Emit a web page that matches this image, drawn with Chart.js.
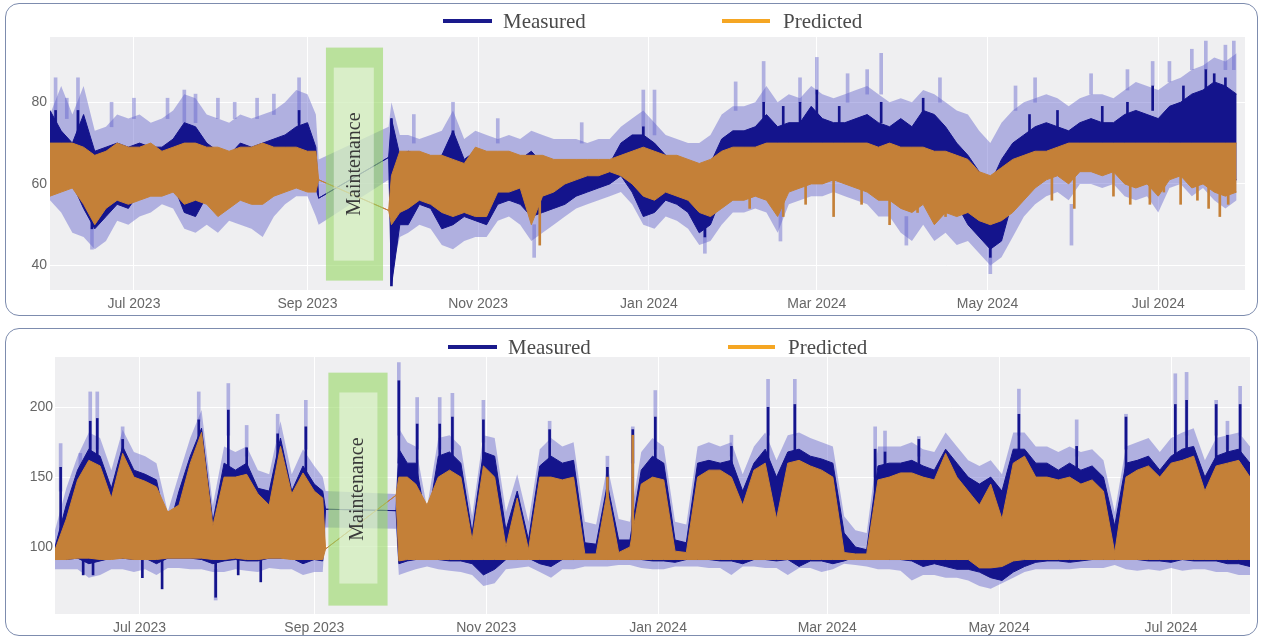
<!DOCTYPE html>
<html><head><meta charset="utf-8">
<script src="https://cdn.jsdelivr.net/npm/chart.js@4.4.1/dist/chart.umd.min.js"></script>
<style>
html,body{margin:0;padding:0;background:#fff;width:1263px;height:638px;overflow:hidden;position:relative}
.panel{position:absolute;border:1.5px solid #7d8cae;border-radius:14px;box-sizing:border-box}
canvas{position:absolute;left:0}
.leg{position:absolute;font-family:"Liberation Serif","Times New Roman",serif;font-size:21px;color:#4a4a4a;line-height:24px;white-space:nowrap}
.sw{position:absolute;height:4px}
</style></head><body>
<div class="panel" style="left:5px;top:3px;width:1253px;height:313px"></div>
<div class="panel" style="left:5px;top:328px;width:1253px;height:308px"></div>
<canvas id="cTop" width="1263" height="320" style="top:0"></canvas>
<canvas id="cBot" width="1263" height="318" style="top:320px"></canvas>
<div class="sw" style="left:443px;top:19px;width:49px;background:#1a1a8c"></div>
<div class="leg" style="left:503px;top:9px">Measured</div>
<div class="sw" style="left:722px;top:19px;width:48px;background:#f5a623"></div>
<div class="leg" style="left:783px;top:9px">Predicted</div>
<div class="sw" style="left:448px;top:345px;width:49px;background:#1a1a8c"></div>
<div class="leg" style="left:508px;top:335px">Measured</div>
<div class="sw" style="left:728px;top:345px;width:47px;background:#f5a623"></div>
<div class="leg" style="left:788px;top:335px">Predicted</div>
<script>
// ---- data (x = day offset from 1 Jun 2023) ----
const days = [0,4,8,12,16,20,24,28,32,36,40,44,48,52,56,60,64,68,72,76,80,84,88,92,95,96,
  121,122,125,128,132,136,140,144,148,152,156,160,164,168,172,176,180,184,188,192,196,200,204,208,212,216,220,224,228,232,236,240,244,248,252,256,260,264,268,272,276,280,284,288,292,296,300,304,308,312,316,320,324,328,332,336,340,344,348,352,356,360,364,368,372,376,380,384,388,392,396,400,404,408,412,416,420,424];

const xTickDays = [30,92,153,214,274,335,396];
const xTickLabels = ["Jul 2023","Sep 2023","Nov 2023","Jan 2024","Mar 2024","May 2024","Jul 2024"];
const topYTicks = [40,60,80];
const botYTicks = [100,150,200];
const maintenanceLabel = "Maintenance";
const seriesNames = ["Measured","Predicted"];

// ---- top panel: envelopes ----
const topBandHi = [77,84,77,84,73,74,77,76,77,75,76,78,82,81,77,76,75,77,76,77,78,80,83,82,77,66,
  74,80,72,72,71,72,73,78,71,73,72,71,72,71,73,72,71,71,71,70,71,71,74,76,78,75,72,71,70,70,72,77,79,79,80,84,80,82,81,84,82,81,82,83,84,82,80,81,80,83,82,80,78,77,73,70,75,78,80,81,82,81,79,81,82,82,81,83,85,84,83,85,86,88,89,91,90,92];
const topMeasHi = [78,73,70,77,68,69,70,69,70,69,69,71,75,74,70,68,67,70,69,70,71,72,74,75,69,56.5,
  66.5,76,67,68,67,66,67,73,66,68,67,65,67,66,68,65,64,64,63,64,64,65,70,72,72,70,67,66,65,64,65,71,73,73,74,77,74,75,75,79,76,75,75,76,77,75,74,76,74,78,77,74,70,67,63,60,66,70,72,74,75,74,73,75,76,75,75,77,78,77,76,79,80,82,83,85,84,82];
const topMeasLo = [59,60,60,54,49,52,55,54,58,59,60,60,53,52,57,54,56,58,57,57,59,60,61,60,59,56.5,
  66.5,35,50,50,55,54,49,50,52,51,50,55,56,55,52,53,54,55,57,58,59,60,62,58,52,53,56,55,53,48,50,
  57,59,59,60,59,55,61,62,63,63,64,63,62,61,59,59,57,56,58,53,56,55,50,47,44,46,56,59,62,64,65,63,66,66,65,66,63,62,63,60,64,65,62,63,61,60,61];
const topPredHi = [70,70,70,69,67,68,70,69,69,70,68,69,70,70,69,69,68,69,69,70,69,69,69,68,68,61,
  53.5,62,68,68,68,67,67,66,65,69,68,68,68,67,67,67,66,66,66,66,66,66,67,68,69,68,67,67,66,65,66,68,69,69,69,70,70,70,70,70,70,70,70,70,70,69,70,69,69,69,68,68,67,66,63,62,64,66,67,68,68,69,70,70,70,70,70,70,70,70,70,70,70,70,70,70,70,70];
const topPredLo = [57,58,59,55,50,54,56,55,56,57,57,58,55,56,55,52,54,56,55,55,57,58,59,58,58,61,
  53.5,50,53,54,56,55,53,52,53,52,52,58,58,59,50,57,58,60,61,62,62,63,62,60,57,56,58,57,56,53,52,54,56,56,57,56,52,58,59,60,60,61,60,59,58,56,56,54,53,55,50,53,52,53,51,50,51,53,56,59,61,62,60,63,63,62,63,60,59,60,57,61,62,59,60,58,57,58];
const topBandLo = [56,53,48,47,44,46,51,50,52,53,55,54,49,48,50,48,51,50,49,47,52,55,57,57,52,50,
  61,38,47,48,50,49,45,44,46,47,47,51,52,50,46,48,50,52,54,55,56,57,58,55,50,49,52,51,49,45,46,50,53,53,54,53,48,55,56,57,57,58,57,56,55,52,52,48,46,50,46,48,45,46,43,40,42,47,52,55,57,58,56,60,60,59,60,57,56,57,53,59,60,57,59,56,54,56];

// ---- top panel: short spikes [low, high] ----
const topBandSpikeDays = [2,6,10,15,22,30,42,48,52,60,66,74,80,89,130,144,160,173,190,212,216,234,245,255,261,268,274,285,292,297,306,318,336,345,352,365,372,385,394,400,408,413,420,423];
const topBandSpikes = [[70,86],[76,81],[70,86],[44,52],[74,80],[76,81],[76,81],[75,83],[75,82],[76,81],[76,80],[76,81],[77,82],[75,86],[70,77],[70,80],[70,76],[42,50],[70,75],[72,83],[72,83],[43,50],[78,85],[80,90],[46,55],[80,86],[82,91],[80,87],[82,88],[82,92],[45,52],[80,86],[38,45],[78,84],[80,86],[45,55],[82,87],[83,88],[84,90],[85,90],[88,93],[88,95],[88,94],[88,95]];
const topMeasSpikeDays = [2,10,15,89,122,144,212,234,255,262,268,274,282,297,312,336,350,360,376,385,394,405,413,416,420];
const topMeasSpikes = [[70,78],[68,78],[49,56],[70,78],[35,76],[68,73],[68,74],[47,52],[74,80],[72,79],[72,80],[76,83],[72,79],[75,80],[74,81],[42,48],[70,77],[71,78],[72,79],[74,80],[78,84],[77,84],[82,88],[80,87],[80,86]];
const topPredSpikeDays = [175,250,262,270,280,290,300,310,320,358,366,380,386,393,398,404,410,414,418,421];
const topPredSpikes = [[45,60],[54,62],[52,60],[55,62],[52,62],[55,62],[50,58],[53,60],[52,60],[56,63],[54,62],[57,64],[55,63],[55,63],[58,64],[55,63],[56,63],[54,62],[52,62],[55,62]];

// ---- bottom panel: envelopes ----
const botBandHi = [112,142,165,182,178,155,184,168,165,160,125,152,178,198,130,172,168,172,155,152,190,152,170,158,150,140,
  138,185,175,172,128,178,180,172,122,180,178,125,152,118,170,178,172,175,118,116,158,120,118,168,178,172,118,116,172,175,172,175,152,172,182,162,180,182,178,175,172,122,112,110,172,172,172,175,170,168,182,172,162,158,162,152,182,182,172,172,168,172,168,170,162,125,172,175,178,168,178,182,185,162,178,180,182,172];
const botMeasHi = [100,130,155,170,165,142,172,155,152,148,110,140,165,185,118,160,155,160,142,140,178,140,158,145,140,127,
  126,170,160,160,115,165,168,160,110,168,165,112,140,105,158,165,160,162,103,102,145,105,105,155,165,160,105,103,160,162,160,162,140,160,170,150,168,170,165,163,160,110,100,98,158,160,160,162,158,155,170,160,150,145,150,140,170,170,160,160,155,160,155,158,150,115,160,162,165,155,165,170,172,150,165,168,170,160];
const botMeasLo = [93,91,92,88,90,92,92,91,92,88,92,92,92,91,88,90,91,90,90,92,92,92,88,91,90,127,
  126,88,90,91,92,91,90,90,88,80,84,91,91,92,88,86,91,91,92,92,91,92,91,91,90,90,89,91,91,91,90,90,88,91,91,90,91,86,90,90,88,90,93,93,92,91,91,90,86,88,86,84,84,82,78,76,82,86,89,90,90,89,90,91,91,91,92,91,90,90,89,91,90,90,90,88,88,86];
const botPredHi = [98,120,148,162,158,135,167,150,147,143,125,130,160,182,115,150,150,152,138,130,172,138,153,140,135,98.6,
  137,150,150,145,130,150,155,150,105,158,150,100,135,98,150,150,148,150,95,95,140,96,100,145,150,148,97,96,150,155,155,150,130,155,160,120,160,162,158,155,150,96,95,95,148,150,153,153,150,148,167,150,140,130,145,120,160,165,150,150,148,150,145,148,140,96,150,155,158,150,160,162,165,140,158,160,162,150];
const botPredLo = [91,91,92,92,91,91,92,91,91,91,92,92,92,92,91,91,92,91,91,92,92,91,91,91,91,98.6,
  137,90,91,91,91,91,91,91,91,91,91,91,91,91,91,91,91,91,91,91,91,91,91,91,91,91,91,91,91,91,91,91,91,91,91,91,91,91,91,91,91,91,91,91,91,91,91,91,91,91,91,91,91,85,85,86,90,91,91,91,91,91,91,91,91,91,91,91,91,91,91,91,91,91,91,91,91,91];
const botBandLo = [84,84,84,78,80,84,84,82,84,80,85,85,84,84,82,82,84,83,82,85,84,84,80,82,82,114,
  113,80,82,84,86,84,83,82,80,72,74,84,85,86,82,78,84,84,86,86,86,87,87,85,84,84,86,86,86,85,85,80,86,86,85,85,80,85,85,82,84,88,87,86,84,84,83,76,80,80,78,78,76,72,70,74,78,82,84,84,84,84,85,85,85,87,84,83,84,83,85,83,84,84,82,82,80,80];

// ---- bottom panel: short spikes [low, high] ----
const botBandSpikeDays = [2,9,12.5,15,24,51,57,61.5,68,79,89,122,128.5,136.5,141,152,175.5,196,205,213,240,253,262.5,291,294.5,306.5,342,362.5,380,397.5,401.5,412,416,420.5];
const botBandSpikes = [[140,174],[150,167],[170,211],[170,211],[170,186],[190,211],[62,84],[180,217],[165,187],[175,195],[170,205],[180,232],[170,207],[170,207],[170,210],[175,205],[175,190],[140,165],[160,186],[170,212],[165,180],[180,220],[180,220],[150,186],[150,183],[165,179],[180,213],[165,191],[170,195],[180,224],[180,225],[180,205],[170,190],[180,215]];
const botMeasSpikeDays = [2,9,10,12.5,13.5,15,24,31,38,51,57,61.5,65,68,73,79,89,122,128.5,136.5,141,152,175.5,196,205,213,240,253,262.5,291,294.5,306.5,342,362.5,380,397.5,401.5,412,416,420.5];
const botMeasSpikes = [[100,157],[140,153],[80,92],[150,190],[80,92],[150,192],[160,177],[78,92],[70,92],[170,191],[64,90],[150,198],[80,92],[150,171],[75,92],[160,181],[150,186],[160,219],[150,188],[150,188],[150,193],[160,191],[150,184],[120,157],[100,184],[150,193],[150,172],[160,200],[160,202],[120,170],[120,168],[150,177],[150,195],[150,172],[110,193],[150,202],[150,205],[150,202],[150,180],[150,202]];
const botPredSpikeDays = [196,205];
const botPredSpikes = [[91,150],[91,180]];

// ---- styling ----
const NAVY = '#14148c', BAND = 'rgba(100,100,205,0.45)', PRED = 'rgb(196,128,56)';

const deco = {
  id: 'deco',
  beforeDraw(chart) {
    const {ctx, chartArea: a} = chart;
    ctx.save();
    ctx.fillStyle = '#efeff1';
    ctx.fillRect(a.left, a.top, a.right - a.left, a.bottom - a.top);
    ctx.restore();
  },
  afterDatasetsDraw(chart, args, o) {
    const {ctx, scales: {x, y}} = chart;
    const b = o.box;
    const rx = v => x.getPixelForValue(v), ry = v => y.getPixelForValue(v);
    ctx.save();
    ctx.fillStyle = 'rgba(150,215,100,0.6)';
    ctx.fillRect(rx(b.x0), ry(b.y1), rx(b.x1) - rx(b.x0), ry(b.y0) - ry(b.y1));
    ctx.fillStyle = 'rgba(255,255,255,0.45)';
    ctx.fillRect(rx(b.ix0), ry(b.iy1), rx(b.ix1) - rx(b.ix0), ry(b.iy0) - ry(b.iy1));
    const cx = (rx(b.x0) + rx(b.x1)) / 2, cy = (ry(b.y0) + ry(b.y1)) / 2;
    ctx.translate(cx, cy);
    ctx.rotate(-Math.PI / 2);
    ctx.fillStyle = '#3a3a3a';
    ctx.font = '20px "Liberation Serif", serif';
    ctx.textAlign = 'center';
    ctx.textBaseline = 'middle';
    ctx.fillText(maintenanceLabel, 0, 0);
    ctx.restore();
  }
};

function pts(ys) { return days.map((d, i) => ({x: d, y: ys[i]})); }
function line(label, ys, extra) {
  return Object.assign({type: 'line', label, data: pts(ys), pointRadius: 0, pointHoverRadius: 0, tension: 0}, extra);
}
function bars(label, xs, pairs, color, w, order) {
  return {type: 'bar', label, data: xs.map((d, i) => ({x: d, y: pairs[i]})), backgroundColor: color,
          borderWidth: 0, barThickness: w, grouped: false, order};
}

function makeChart(id, s, cfg) {
  return new Chart(document.getElementById(id), {
    type: 'line',
    data: {datasets: [
      line('band hi', s.bandHi, {fill: '+1', backgroundColor: BAND, borderColor: BAND, borderWidth: 0, order: 3}),
      line('band lo', s.bandLo, {fill: false, borderColor: BAND, borderWidth: 0, order: 3}),
      line(seriesNames[0], s.measHi, {fill: '+1', backgroundColor: NAVY, borderColor: NAVY, borderWidth: 1, order: 2}),
      line(seriesNames[0] + ' lo', s.measLo, {fill: false, borderColor: NAVY, borderWidth: 1, order: 2}),
      line(seriesNames[1], s.predHi, {fill: '+1', backgroundColor: PRED, borderColor: PRED, borderWidth: 1, order: 1}),
      line(seriesNames[1] + ' lo', s.predLo, {fill: false, borderColor: PRED, borderWidth: 1, order: 1}),
      bars('band spikes', s.bandSpikeDays, s.bandSpikes, BAND, 3, 4),
      bars('measured spikes', s.measSpikeDays, s.measSpikes, NAVY, 2, 2.5),
      bars('predicted spikes', s.predSpikeDays, s.predSpikes, PRED, 2, 1.5)
    ]},
    options: {
      responsive: false, animation: false, events: [],
      layout: {padding: {left: 0, right: cfg.padRight, top: 37, bottom: 0}},
      plugins: {legend: {display: false}, tooltip: {enabled: false}, deco: {box: cfg.box}},
      scales: {
        x: {type: 'linear', min: 0, max: cfg.xMax, offset: false,
            afterBuildTicks: sc => { sc.ticks = xTickDays.map(v => ({value: v})); },
            afterFit: sc => { sc.height = cfg.xH; },
            ticks: {callback: v => xTickLabels[xTickDays.indexOf(v)], color: '#666', font: {family: 'Liberation Sans', size: 14}, padding: 6, maxRotation: 0, autoSkip: false},
            grid: {color: '#ffffff', lineWidth: 1, drawTicks: false, offset: false}, border: {display: false}},
        y: {type: 'linear', min: cfg.yMin, max: cfg.yMax,
            afterBuildTicks: sc => { sc.ticks = cfg.yTicks.map(v => ({value: v})); },
            afterFit: sc => { sc.width = cfg.yW; },
            ticks: {color: '#666', font: {family: 'Liberation Sans', size: 14}, padding: cfg.yPad},
            grid: {color: '#ffffff', lineWidth: 1, drawTicks: false}, border: {display: false}}
      }
    },
    plugins: [deco]
  });
}

makeChart('cTop',
  {bandHi: topBandHi, bandLo: topBandLo, measHi: topMeasHi, measLo: topMeasLo, predHi: topPredHi, predLo: topPredLo,
   bandSpikeDays: topBandSpikeDays, bandSpikes: topBandSpikes, measSpikeDays: topMeasSpikeDays, measSpikes: topMeasSpikes,
   predSpikeDays: topPredSpikeDays, predSpikes: topPredSpikes},
  {padRight: 18, xMax: 427, xH: 30, yW: 50, yPad: 3, yMin: 34, yMax: 96, yTicks: topYTicks,
   box: {x0: 98.6, x1: 119, y0: 36.3, y1: 93.4, ix0: 101.4, ix1: 115.7, iy0: 41.2, iy1: 88.5}});

makeChart('cBot',
  {bandHi: botBandHi, bandLo: botBandLo, measHi: botMeasHi, measLo: botMeasLo, predHi: botPredHi, predLo: botPredLo,
   bandSpikeDays: botBandSpikeDays, bandSpikes: botBandSpikes, measSpikeDays: botMeasSpikeDays, measSpikes: botMeasSpikes,
   predSpikeDays: botPredSpikeDays, predSpikes: botPredSpikes},
  {padRight: 13, xMax: 424, xH: 24, yW: 55, yPad: 2, yMin: 52, yMax: 236, yTicks: botYTicks,
   box: {x0: 97, x1: 118, y0: 58, y1: 224.8, ix0: 100.9, ix1: 114.4, iy0: 73.8, iy1: 210.6}});
</script>
</body></html>
